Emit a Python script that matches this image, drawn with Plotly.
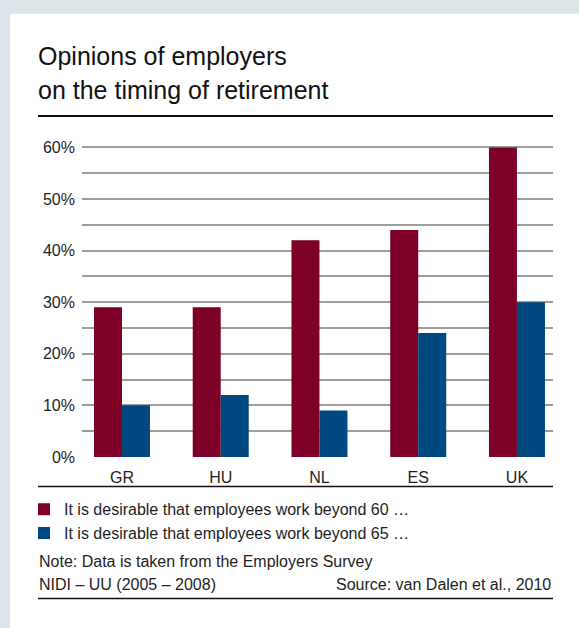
import plotly.graph_objects as go

W, H = 579, 628

categories = ["GR", "HU", "NL", "ES", "UK"]
series_names = [
    "It is desirable that employees work beyond 60 …",
    "It is desirable that employees work beyond 65 …",
]
beyond_60 = [29, 29, 42, 44, 60]
beyond_65 = [10, 12, 9, 24, 30]
y_tick_values = [0, 5, 10, 15, 20, 25, 30, 35, 40, 45, 50, 55, 60]
y_tick_labels = ["0%", "", "10%", "", "20%", "", "30%", "", "40%", "", "50%", "", "60%"]

title_lines = ["Opinions of employers", "on the timing of retirement"]
note_line = "Note: Data is taken from the Employers Survey"
note_line2 = "NIDI – UU (2005 – 2008)"
source_line = "Source: van Dalen et al., 2010"

MAROON = "#7d0027"
BLUE = "#004880"
FONT = "Liberation Sans, Arial, sans-serif"
TXT = "#1e1e1e"
FS = 16


def px(x):
    return x / W


def py(y):
    return 1 - y / H


fig = go.Figure()
fig.add_trace(go.Bar(x=categories, y=beyond_60, name=series_names[0], legendgroup="g60",
                     marker=dict(color=MAROON, line=dict(width=0))))
fig.add_trace(go.Bar(x=categories, y=beyond_65, name=series_names[1], legendgroup="g65",
                     marker=dict(color=BLUE, line=dict(width=0))))

# plot area geometry
x_left, x_right = 82, 553
y_zero = 462
unit = 5.25  # px per percent
y_lo, y_hi = -0.15, 61
bottom_px = y_zero + (0 - y_lo) * unit
top_px = y_zero - y_hi * unit

shapes = [
    dict(type="rect", xref="paper", yref="paper", x0=px(10), x1=1.02, y0=-0.02, y1=py(11),
         fillcolor="white", line=dict(width=0), layer="below"),
    dict(type="line", xref="paper", yref="paper", x0=px(38), x1=px(553), y0=py(115), y1=py(115),
         line=dict(color="#111111", width=2)),
    dict(type="line", xref="paper", yref="paper", x0=px(38), x1=px(553), y0=py(492), y1=py(492),
         line=dict(color="#111111", width=1.5)),
    dict(type="line", xref="paper", yref="paper", x0=px(38), x1=px(553), y0=py(606), y1=py(606),
         line=dict(color="#111111", width=1.5)),
]

annotations = [
    dict(text=title_lines[0], xref="paper", yref="paper", x=px(36), y=py(54), xanchor="left",
         yanchor="middle", showarrow=False, font=dict(family=FONT, size=25, color="#111111")),
    dict(text=title_lines[1], xref="paper", yref="paper", x=px(36), y=py(89), xanchor="left",
         yanchor="middle", showarrow=False, font=dict(family=FONT, size=25, color="#111111")),
    dict(text=note_line, xref="paper", yref="paper", x=px(37), y=py(568), xanchor="left",
         yanchor="middle", showarrow=False, font=dict(family=FONT, size=FS, color=TXT)),
    dict(text=note_line2, xref="paper", yref="paper", x=px(37), y=py(592), xanchor="left",
         yanchor="middle", showarrow=False, font=dict(family=FONT, size=FS, color=TXT)),
    dict(text=source_line, xref="paper", yref="paper", x=px(553), y=py(592), xanchor="right",
         yanchor="middle", showarrow=False, font=dict(family=FONT, size=FS, color=TXT)),
]

fig.update_layout(
    width=W, height=H, autosize=False,
    margin=dict(l=0, r=0, t=0, b=0),
    paper_bgcolor="#dae4e9",
    plot_bgcolor="rgba(0,0,0,0)",
    barmode="group",
    bargap=0.433,
    bargroupgap=0,
    font=dict(family=FONT, size=FS, color=TXT),
    shapes=shapes,
    annotations=annotations,
    showlegend=True,
    legend=dict(x=px(24), y=py(498), xanchor="left", yanchor="top",
                bgcolor="rgba(0,0,0,0)", font=dict(family=FONT, size=FS, color=TXT),
                itemclick=False, tracegroupgap=8, traceorder="normal"),
    xaxis=dict(domain=[px(x_left), px(x_right)], range=[-0.405, 4.365],
               showgrid=False, zeroline=False, showline=False, ticks="",
               ticklabelstandoff=8, tickfont=dict(family=FONT, size=FS, color=TXT),
               fixedrange=True),
    yaxis=dict(domain=[py(bottom_px), py(top_px)], range=[y_lo, y_hi],
               tickmode="array", tickvals=y_tick_values, ticktext=y_tick_labels,
               showgrid=True, gridcolor="#9c9c9c", gridwidth=1.5,
               zeroline=False, showline=False, ticks="",
               ticklabelstandoff=6, tickfont=dict(family=FONT, size=FS, color=TXT),
               fixedrange=True),
)

fig.write_html("out.html")
